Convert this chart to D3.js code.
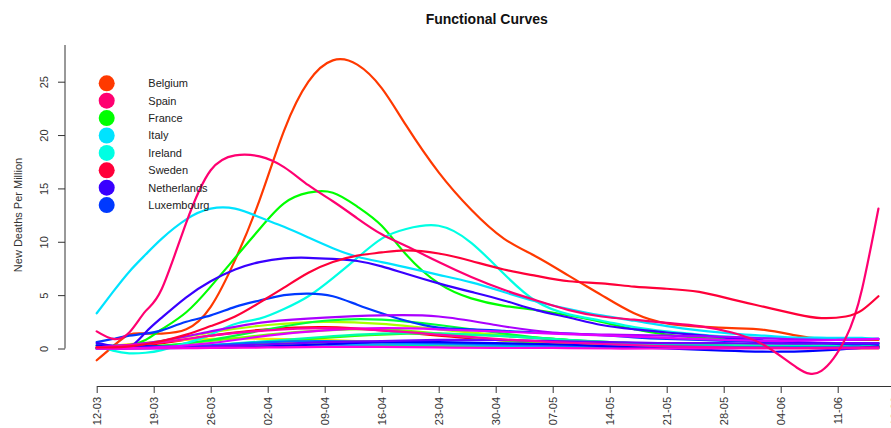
<!DOCTYPE html>
<html>
<head>
<meta charset="utf-8">
<script src="https://cdn.jsdelivr.net/npm/d3@7"></script>
<style>
  body { margin: 0; background: #fff; }
  svg { display: block; font-family: "Liberation Sans", Arial, sans-serif; }
</style>
</head>
<body>
<svg id="chart" width="891" height="428"></svg>
<script>
// Day offsets from 12 March 2020 at which each smoothed curve is sampled
const fineDays = [0, 2, 4, 6, 8, 11, 14, 17, 20, 23, 26, 29, 32, 35, 38, 42, 46, 50, 54, 58, 62, 66, 70, 74, 78, 82, 86, 89, 92, 94, 96];
const weekDays = [0, 7, 14, 21, 28, 35, 42, 49, 56, 63, 70, 77, 84, 91, 96];

// Axis ticks
const xTickLabels = ["12-03", "19-03", "26-03", "02-04", "09-04", "16-04", "23-04", "30-04", "07-05", "14-05", "21-05", "28-05", "04-06", "11-06", "18-06"];
const yTicks = [0, 5, 10, 15, 20, 25];

// EU member states in alphabetical order (this order sets the rainbow colour of each curve)
const countries = ["Austria", "Belgium", "Bulgaria", "Croatia", "Cyprus", "Czechia", "Denmark", "Estonia", "Finland", "France", "Germany", "Greece", "Hungary", "Ireland", "Italy", "Latvia", "Lithuania", "Luxembourg", "Malta", "Netherlands", "Poland", "Portugal", "Romania", "Slovakia", "Slovenia", "Spain", "Sweden"];
const legendCountries = ["Belgium", "Spain", "France", "Italy", "Ireland", "Sweden", "Netherlands", "Luxembourg"];

// Smoothed new deaths per million, on fineDays
const belgium     = [-1.1, 0.2, 1.3, 1.4, 1.4, 1.8, 3.9, 8.3, 13.9, 20.4, 25.0, 27.0, 26.6, 24.4, 20.9, 16.5, 13.0, 10.3, 8.6, 6.8, 5.0, 3.3, 2.35, 2.05, 1.9, 1.75, 1.2, 0.9, 0.8, 0.8, 0.8];
const spain       = [1.6, 0.9, 1.5, 3.5, 5.6, 11.8, 16.7, 18.1, 18.0, 17.0, 15.3, 13.8, 12.2, 10.7, 9.6, 8.1, 6.7, 5.5, 4.5, 3.6, 3.0, 2.7, 2.4, 2.1, 1.5, 0.3, -1.8, -2.1, 1.0, 5.6, 13.1];
const france      = [0.3, 0.2, 0.3, 0.8, 1.8, 3.4, 5.8, 8.5, 11.2, 13.6, 14.6, 14.6, 13.3, 11.5, 8.8, 6.1, 4.7, 4.0, 3.6, 3.1, 2.5, 1.8, 1.3, 1.0, 0.8, 0.6, 0.5, 0.5, 0.5, 0.5, 0.5];
const italy       = [3.3, 5.3, 7.2, 8.8, 10.3, 12.1, 13.1, 13.1, 12.3, 11.4, 10.4, 9.4, 8.6, 8.1, 7.6, 6.9, 6.2, 5.3, 4.4, 3.7, 3.1, 2.6, 2.1, 1.7, 1.4, 1.2, 1.0, 1.0, 1.0, 1.0, 0.9];
const ireland     = [0.3, -0.2, -0.45, -0.4, -0.15, 0.5, 1.3, 2.3, 2.8, 3.7, 4.9, 6.6, 8.5, 10.3, 11.2, 11.5, 9.9, 7.0, 4.4, 3.2, 2.6, 2.0, 1.6, 1.3, 1.1, 1.0, 1.0, 1.0, 0.9, 0.9, 0.9];
const sweden      = [0.1, 0.1, 0.2, 0.4, 0.7, 1.3, 2.1, 3.0, 4.3, 5.7, 7.1, 8.1, 8.7, 9.0, 9.2, 8.9, 8.2, 7.4, 6.8, 6.3, 6.1, 5.8, 5.6, 5.3, 4.6, 3.9, 3.2, 2.85, 3.0, 3.6, 4.9];
const netherlands = [0.5, 0.2, 0.1, 1.5, 2.9, 4.8, 6.3, 7.4, 8.1, 8.45, 8.5, 8.4, 8.2, 7.7, 7.0, 6.1, 5.3, 4.5, 3.6, 2.9, 2.2, 1.8, 1.5, 1.25, 0.95, 0.75, 0.6, 0.5, 0.5, 0.5, 0.5];
const luxembourg  = [0.6, 0.9, 1.2, 1.4, 1.7, 2.5, 3.1, 3.9, 4.5, 5.0, 5.15, 4.9, 4.1, 3.3, 2.6, 1.95, 1.8, 1.65, 1.5, 1.4, 1.25, 1.05, 0.9, 0.8, 0.7, 0.6, 0.5, 0.5, 0.4, 0.4, 0.4];

// Smoothed new deaths per million, on weekDays
const austria   = [0.1, 0.4, 1.2, 1.8, 2.0, 1.7, 1.2, 0.8, 0.5, 0.3, 0.2, 0.15, 0.1, 0.15, 0.2];
const bulgaria  = [0.0, 0.05, 0.1, 0.15, 0.2, 0.25, 0.2, 0.2, 0.2, 0.2, 0.15, 0.1, 0.15, 0.2, 0.3];
const croatia   = [0.0, 0.1, 0.2, 0.4, 0.6, 0.6, 0.5, 0.4, 0.2, 0.1, 0.05, 0.05, 0.05, 0.05, 0.1];
const cyprus    = [0.1, 0.6, 0.9, 0.9, 0.8, 0.6, 0.4, 0.3, 0.2, 0.1, 0.05, 0.05, 0.05, 0.0, 0.0];
const czechia   = [0.0, 0.1, 0.3, 0.5, 0.6, 0.6, 0.5, 0.35, 0.25, 0.15, 0.15, 0.15, 0.15, 0.1, 0.1];
const denmark   = [0.1, 0.6, 1.5, 2.2, 2.5, 2.3, 1.8, 1.3, 0.9, 0.5, 0.3, 0.2, 0.2, 0.2, 0.2];
const estonia   = [0.0, 0.2, 0.7, 1.3, 1.7, 1.8, 1.4, 0.8, 0.5, 0.4, 0.2, 0.1, 0.1, 0.05, 0.05];
const finland   = [0.0, 0.05, 0.2, 0.6, 1.0, 1.3, 1.4, 1.2, 0.9, 0.5, 0.3, 0.2, 0.15, 0.1, 0.1];
const germany   = [0.0, 0.2, 0.8, 1.8, 2.6, 2.7, 2.2, 1.5, 0.9, 0.6, 0.4, 0.3, 0.2, 0.15, 0.1];
const greece    = [0.05, 0.1, 0.3, 0.4, 0.4, 0.3, 0.2, 0.15, 0.1, 0.1, 0.1, 0.1, 0.05, 0.05, 0.05];
const hungary   = [0.0, 0.1, 0.3, 0.7, 1.1, 1.4, 1.4, 1.2, 0.9, 0.6, 0.4, 0.3, 0.3, 0.3, 0.3];
const latvia    = [0.0, 0.0, 0.1, 0.2, 0.3, 0.4, 0.4, 0.3, 0.2, 0.15, 0.1, 0.1, 0.1, 0.1, 0.1];
const lithuania = [0.0, 0.1, 0.3, 0.6, 0.7, 0.6, 0.5, 0.4, 0.3, 0.2, 0.2, 0.15, 0.1, 0.1, 0.1];
const malta     = [0.3, 0.2, 0.1, 0.2, 0.4, 0.6, 0.6, 0.5, 0.4, 0.2, 0.0, -0.2, -0.3, -0.1, 0.2];
const poland    = [0.0, 0.05, 0.2, 0.4, 0.6, 0.7, 0.8, 0.8, 0.7, 0.6, 0.5, 0.5, 0.45, 0.5, 0.5];
const portugal  = [0.1, 0.6, 1.6, 2.5, 2.9, 3.1, 3.0, 2.2, 1.5, 1.3, 1.2, 1.1, 0.9, 0.8, 0.9];
const romania   = [0.0, 0.1, 0.5, 1.2, 1.7, 1.9, 1.8, 1.6, 1.4, 1.2, 1.0, 0.8, 0.7, 0.8, 0.9];
const slovakia  = [0.0, 0.0, 0.05, 0.1, 0.15, 0.15, 0.1, 0.05, 0.05, 0.0, 0.0, 0.0, 0.0, 0.0, 0.0];
const slovenia  = [0.1, 0.5, 1.2, 1.7, 1.9, 1.7, 1.3, 0.9, 0.6, 0.4, 0.2, 0.1, 0.05, 0.05, 0.1];

const fineSeries = { Belgium: belgium, Spain: spain, France: france, Italy: italy, Ireland: ireland, Sweden: sweden, Netherlands: netherlands, Luxembourg: luxembourg };
const weekSeries = { Austria: austria, Bulgaria: bulgaria, Croatia: croatia, Cyprus: cyprus, Czechia: czechia, Denmark: denmark, Estonia: estonia, Finland: finland, Germany: germany, Greece: greece, Hungary: hungary, Latvia: latvia, Lithuania: lithuania, Malta: malta, Poland: poland, Portugal: portugal, Romania: romania, Slovakia: slovakia, Slovenia: slovenia };

const parseDay = d3.timeParse("%d-%m-%Y");
const toDate = lbl => parseDay(lbl + "-2020");
const start = toDate(xTickLabels[0]);

const series = countries.map((name, i) => {
  const fine = fineSeries[name];
  const days = fine ? fineDays : weekDays;
  const vals = fine || weekSeries[name];
  return {
    name,
    color: d3.hsl(i * 360 / countries.length, 1, 0.5).formatHex(),
    points: days.map((d, k) => ({ date: d3.timeDay.offset(start, d), value: vals[k] }))
  };
});
const colorOf = Object.fromEntries(series.map(s => [s.name, s.color]));

const svg = d3.select("#chart");
svg.append("rect").attr("width", 891).attr("height", 428).attr("fill", "#fff");

const x = d3.scaleTime()
  .domain([toDate(xTickLabels[0]), toDate(xTickLabels[xTickLabels.length - 1])])
  .range([96.7, 894.7]);
const y = d3.scaleLinear().domain([0, 25]).range([348.5, 81.7]);

const ink = "#333";

// Title
svg.append("text")
  .attr("x", 486.7).attr("y", 24)
  .attr("text-anchor", "middle")
  .attr("font-size", 14).attr("font-weight", "bold")
  .attr("fill", "#111")
  .text("Functional Curves");

// Y axis
const yAxis = svg.append("g")
  .attr("transform", "translate(65,0)")
  .call(d3.axisLeft(y).tickValues(yTicks).tickSize(7).tickSizeOuter(0));
yAxis.attr("font-family", null).attr("font-size", 11);
yAxis.select(".domain").remove();
yAxis.append("line")
  .attr("x1", 0).attr("x2", 0)
  .attr("y1", y(0)).attr("y2", 45)
  .attr("stroke", ink);
yAxis.selectAll(".tick line").attr("stroke", ink);
yAxis.selectAll(".tick text")
  .attr("x", 0).attr("dy", 0)
  .attr("fill", ink)
  .attr("text-anchor", "middle")
  .attr("transform", "translate(-17,0) rotate(-90)");

svg.append("text")
  .attr("transform", "translate(22,215) rotate(-90)")
  .attr("text-anchor", "middle")
  .attr("font-size", 11)
  .attr("fill", ink)
  .text("New Deaths Per Million");

// X axis; the last date label runs past the right edge of the page
const xAxis = svg.append("g")
  .attr("transform", "translate(0,386)")
  .call(d3.axisBottom(x)
    .tickValues(xTickLabels.map(toDate))
    .tickFormat(d3.timeFormat("%d-%m"))
    .tickSize(7).tickSizeOuter(0));
xAxis.attr("font-family", null).attr("font-size", 11);
xAxis.select(".domain").attr("stroke", ink);
xAxis.selectAll(".tick line").attr("stroke", ink);
xAxis.selectAll(".tick text")
  .attr("x", 0).attr("y", 0).attr("dy", "0.35em")
  .attr("fill", ink)
  .attr("text-anchor", "end")
  .attr("transform", "translate(0,11) rotate(-90)");

// Curves
const line = d3.line()
  .x(p => x(p.date))
  .y(p => y(p.value))
  .curve(d3.curveNatural);

svg.append("g")
  .selectAll("path")
  .data(series)
  .join("path")
  .attr("d", s => line(s.points))
  .attr("fill", "none")
  .attr("stroke", s => s.color)
  .attr("stroke-width", 2.2)
  .attr("stroke-linejoin", "round")
  .attr("stroke-linecap", "round");

// Legend
const legend = svg.append("g")
  .selectAll("g")
  .data(legendCountries)
  .join("g")
  .attr("transform", (d, i) => `translate(106.7,${83.3 + i * 17.4})`);
legend.append("circle").attr("r", 8).attr("fill", d => colorOf[d]);
legend.append("text")
  .attr("x", 41.6).attr("dy", "0.35em")
  .attr("font-size", 11)
  .attr("fill", "#222")
  .text(d => d);
</script>
</body>
</html>
